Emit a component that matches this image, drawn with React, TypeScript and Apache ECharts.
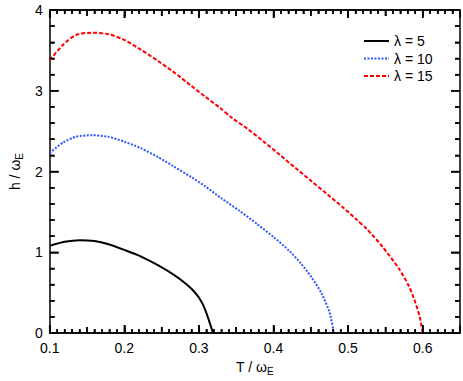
import React, { useEffect, useRef } from "react";
import * as echarts from "echarts";

const seriesNames = ["λ = 5", "λ = 10", "λ = 15"];
const lambda5: [number, number][] = [
  [0.1, 1.08], [0.12, 1.13], [0.14, 1.15], [0.16, 1.14], [0.179, 1.1], [0.2, 1.03],
  [0.222, 0.95], [0.245, 0.84], [0.265, 0.73], [0.28, 0.63], [0.291, 0.54], [0.3, 0.44],
  [0.308, 0.3], [0.319, 0.0],
];
const lambda10: [number, number][] = [
  [0.1, 2.23], [0.118, 2.36], [0.135, 2.43], [0.157, 2.45], [0.179, 2.43], [0.2, 2.37],
  [0.222, 2.29], [0.245, 2.18], [0.265, 2.07], [0.29, 1.93], [0.308, 1.82], [0.33, 1.67],
  [0.355, 1.51], [0.378, 1.35], [0.4, 1.19], [0.421, 1.02], [0.437, 0.86], [0.451, 0.69],
  [0.464, 0.5], [0.475, 0.26], [0.481, 0.0],
];
const lambda15: [number, number][] = [
  [0.1, 3.38], [0.118, 3.57], [0.135, 3.69], [0.157, 3.72], [0.179, 3.7], [0.2, 3.63],
  [0.222, 3.51], [0.245, 3.37], [0.265, 3.24], [0.29, 3.06], [0.308, 2.93], [0.328, 2.79],
  [0.345, 2.66], [0.365, 2.53], [0.387, 2.37], [0.408, 2.21], [0.43, 2.04], [0.451, 1.88],
  [0.472, 1.72], [0.494, 1.55], [0.512, 1.4], [0.525, 1.29], [0.546, 1.07], [0.568, 0.8],
  [0.581, 0.59], [0.589, 0.41], [0.596, 0.2], [0.6, 0.0],
];
const xTicks = [0.1, 0.2, 0.3, 0.4, 0.5, 0.6];
const yTicks = [0, 1, 2, 3, 4];
const xMajorTicks = [0.1, 0.2, 0.3, 0.4, 0.5, 0.6];
const xMidTicks = [0.15, 0.25, 0.35, 0.45, 0.55];
const xMinorTicks = [
  0.11, 0.12, 0.13, 0.14, 0.16, 0.17, 0.18, 0.19,
  0.21, 0.22, 0.23, 0.24, 0.26, 0.27, 0.28, 0.29,
  0.31, 0.32, 0.33, 0.34, 0.36, 0.37, 0.38, 0.39,
  0.41, 0.42, 0.43, 0.44, 0.46, 0.47, 0.48, 0.49,
  0.51, 0.52, 0.53, 0.54, 0.56, 0.57, 0.58, 0.59,
  0.61, 0.62, 0.63, 0.64,
];
const yMajorTicks = [1, 2, 3];
const yMinorTicks = [
  0.2, 0.4, 0.6, 0.8, 1.2, 1.4, 1.6, 1.8, 2.2, 2.4, 2.6, 2.8, 3.2, 3.4, 3.6, 3.8,
];

const FONT = "Liberation Sans";
const X_MIN = 0.1;
const X_MAX = 0.65;
const Y_MIN = 0;
const Y_MAX = 4;

export default function App() {
  const ref = useRef<HTMLDivElement>(null);
  useEffect(() => {
    if (!ref.current) return;
    const chart = echarts.init(ref.current, null, { renderer: "svg" });
    const mkLine = () => ({ show: true, onZero: false, lineStyle: { color: "#000", width: 1.5 } });
    const tickStyle = () => ({ color: "#000", width: 1.5 });
    const nameRich = {
      n: { fontSize: 14, fontFamily: FONT, color: "#000" },
      s: { fontSize: 10, fontFamily: FONT, color: "#000", padding: [8, 0, 0, 0] },
    };
    const xFine = (pos: "bottom" | "top") => ({
      type: "value",
      position: pos,
      min: X_MIN,
      max: X_MAX,
      interval: 0.05,
      axisLine: mkLine(),
      axisTick: { show: true, inside: true, length: 6, lineStyle: tickStyle() },
      minorTick: { show: true, splitNumber: 5, length: 4, lineStyle: tickStyle() },
      splitLine: { show: false },
      axisLabel: { show: false },
    });
    const xMajor = (pos: "bottom" | "top", labels: boolean) => ({
      type: "value",
      position: pos,
      min: X_MIN,
      max: X_MAX,
      interval: 0.1,
      axisLine: mkLine(),
      axisTick: { show: true, inside: true, length: 8, lineStyle: tickStyle() },
      splitLine: { show: false },
      axisLabel: labels
        ? {
            show: true,
            color: "#000",
            fontSize: 14,
            fontFamily: FONT,
            margin: 8,
            formatter: (v: number) => {
              const t = xTicks.find((k) => Math.abs(k - v) < 1e-6);
              return t === undefined ? "" : t.toFixed(1);
            },
          }
        : { show: false },
      ...(labels
        ? { name: "{n|T / ω}{s|E}", nameLocation: "middle", nameGap: 22, nameTextStyle: { rich: nameRich } }
        : {}),
    });
    const yAx = (pos: "left" | "right", labels: boolean) => ({
      type: "value",
      position: pos,
      min: Y_MIN,
      max: Y_MAX,
      interval: 1,
      axisLine: mkLine(),
      axisTick: { show: true, inside: true, length: 9, lineStyle: tickStyle() },
      minorTick: { show: true, splitNumber: 5, length: 5, lineStyle: tickStyle() },
      splitLine: { show: false },
      axisLabel: labels
        ? {
            show: true,
            color: "#000",
            fontSize: 14,
            fontFamily: FONT,
            margin: 7,
            formatter: (v: number) => (yTicks.includes(v) ? String(v) : ""),
          }
        : { show: false },
      ...(labels
        ? { name: "{n|h / ω}{s|E}", nameLocation: "middle", nameGap: 18, nameTextStyle: { rich: nameRich } }
        : {}),
    });
    const mk = (name: string, data: [number, number][], color: string, type: any) => ({
      name,
      type: "line",
      data,
      xAxisIndex: 0,
      yAxisIndex: 0,
      showSymbol: false,
      symbol: "none",
      smooth: 0.25,
      lineStyle: { color, width: 2, type },
      itemStyle: { color },
    });
    const tickLen = [8, 6, 4, 9, 5];
    const tickData: number[][] = [
      ...xMajorTicks.map((v) => [v, Y_MIN, 0]),
      ...xMidTicks.map((v) => [v, Y_MIN, 1]),
      ...xMinorTicks.map((v) => [v, Y_MIN, 2]),
      ...yMajorTicks.map((v) => [X_MIN, v, 3]),
      ...yMinorTicks.map((v) => [X_MIN, v, 4]),
    ];
    const tickSeries = {
      name: "ticks",
      type: "custom",
      coordinateSystem: "cartesian2d",
      xAxisIndex: 0,
      yAxisIndex: 0,
      silent: true,
      z: 5,
      dimensions: ["x", "y", "k"],
      encode: { x: 0, y: 1 },
      data: tickData,
      renderItem: (_params: any, api: any) => {
        const a = api.value(0);
        const b = api.value(1);
        const k = api.value(2);
        const len = tickLen[k] || 4;
        const style = { stroke: "#000", lineWidth: 1.5 };
        if (k <= 2) {
          const pb = api.coord([a, Y_MIN]);
          const pt = api.coord([a, Y_MAX]);
          return {
            type: "group",
            children: [
              { type: "line", shape: { x1: pb[0], y1: pb[1], x2: pb[0], y2: pb[1] - len }, style },
              { type: "line", shape: { x1: pt[0], y1: pt[1], x2: pt[0], y2: pt[1] + len }, style },
            ],
          };
        }
        const pl = api.coord([X_MIN, b]);
        const pr = api.coord([X_MAX, b]);
        return {
          type: "group",
          children: [
            { type: "line", shape: { x1: pl[0], y1: pl[1], x2: pl[0] + len, y2: pl[1] }, style },
            { type: "line", shape: { x1: pr[0], y1: pr[1], x2: pr[0] - len, y2: pr[1] }, style },
          ],
        };
      },
    };
    chart.setOption({
      animation: false,
      grid: { left: 36, right: 3, top: 10, bottom: 47 },
      legend: {
        orient: "vertical",
        left: 358,
        top: 29,
        itemWidth: 25,
        itemHeight: 14,
        itemGap: 3.5,
        itemStyle: { opacity: 0 },
        textStyle: { fontSize: 14, fontFamily: FONT, color: "#000" },
        data: seriesNames,
      },
      xAxis: [xMajor("bottom", true), xFine("bottom"), xMajor("top", false), xFine("top")],
      yAxis: [yAx("left", true), yAx("right", false)],
      series: [
        mk(seriesNames[0], lambda5, "#000000", "solid"),
        mk(seriesNames[1], lambda10, "#2f54ff", [2, 1.5]),
        mk(seriesNames[2], lambda15, "#ff0000", [4, 2]),
        tickSeries,
      ],
    });
    return () => chart.dispose();
  }, []);
  return <div ref={ref} style={{ width: 463, height: 381, position: "absolute", left: 0, top: 0 }} />;
}
